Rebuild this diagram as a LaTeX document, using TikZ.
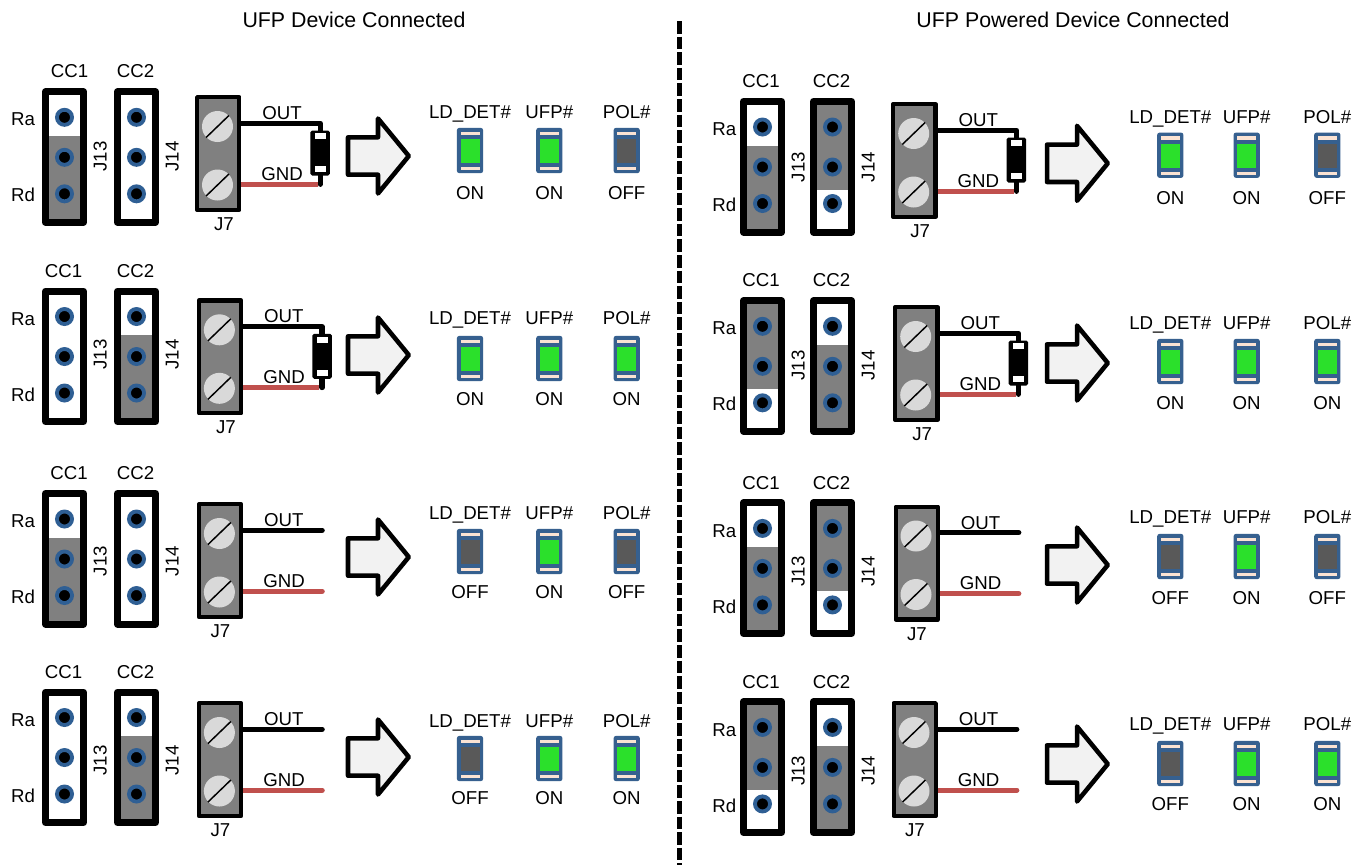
\documentclass[tikz,border=0pt]{standalone}
\usepackage{fontspec}
\setmainfont{Liberation Sans}
\definecolor{pinblue}{HTML}{2F5F94}
\definecolor{ledblue}{HTML}{36608F}
\definecolor{ledgreen}{HTML}{2BE02B}
\definecolor{ledoff}{HTML}{595959}
\definecolor{cream}{HTML}{FBE3D3}
\definecolor{wirered}{HTML}{C0504D}
\definecolor{blockgray}{HTML}{808080}
\definecolor{screwgray}{HTML}{D9D9D9}
\definecolor{arrowfill}{HTML}{F2F2F2}
\tikzset{
  x=0.75pt,y=-0.75pt,
  lbl/.style={font=\fontsize{14}{16}\selectfont,inner sep=0pt,anchor=center,text height=10pt,text depth=0pt},
  ttl/.style={font=\fontsize{16}{18}\selectfont,inner sep=0pt,anchor=center,text height=11.5pt,text depth=0pt},
  hdrframe/.style={draw=black,line width=5.25pt,line join=round,fill=white},
  pin/.style={circle,fill=black,draw=pinblue,line width=2.9pt,minimum size=11.3pt,inner sep=0pt},
  j7box/.style={draw=black,line width=3.15pt,line join=round,fill=blockgray},
  screw/.style={circle,fill=screwgray,minimum size=23.25pt,inner sep=0pt},
  slash/.style={draw=black,line width=1.1pt},
  wire/.style={line width=4pt,line cap=round,line join=round},
  bigarrow/.style={draw=black,line width=3.4pt,line join=round,fill=arrowfill},
  ledbody/.style={draw=ledblue,fill=ledblue,line width=1pt,rounded corners=1.5pt},
  diodebody/.style={draw=black,fill=black,line width=1pt,rounded corners=1pt,minimum width=13.6pt,minimum height=32.75pt,inner sep=0pt},
}
% #1 name, #2 x, #3 y, #4 state n/t/b, #5 label, #6 label y
\newcommand{\hdr}[6]{
  \begin{scope}[shift={(#2,#3)}]
    \path[hdrframe] (3.5,3.5) rectangle (41.5,134);
    \if#4t \fill[blockgray] (7,7) rectangle (38,91.5); \fi
    \if#4b \fill[blockgray] (7,47.5) rectangle (38,130.5); \fi
    \node[pin] (#1a) at (22.5,29) {};
    \node[pin] (#1b) at (22.5,69) {};
    \node[pin] (#1c) at (22.5,105.5) {};
    \node[lbl,rotate=90] (#1l) at (58,#6) {#5};
  \end{scope}}
% terminal block: #1 name #2 x #3 y
\newcommand{\jseven}[3]{
  \begin{scope}[shift={(#2,#3)}]
    \path[j7box] (2.1,2.1) rectangle (44.3,115);
    \node[screw] (#1s) at (22.5,31.5) {};
    \node[screw] (#1t) at (22.5,90) {};
    \draw[slash] (#1s.center) ++(-11.4,11) -- ++(22.8,-22);
    \draw[slash] (#1t.center) ++(-11.4,11) -- ++(22.8,-22);
    \node[lbl] (#1o) at (87,18) {OUT};
    \node[lbl] (#1g) at (87.2,78.5) {GND};
  \end{scope}}
% wires are laid before the block so they start under its edge
\newcommand{\plainwires}[3]{
  \begin{scope}[shift={(#2,#3)}]
    \coordinate (#1a) at (30,28.2); \coordinate (#1b) at (30,89.2);
    \coordinate (#1e) at (125.2,28.2); \coordinate (#1f) at (125.2,89.2);
    \draw[wire,black] (#1a) -- (#1e);
    \draw[wire,wirered] (#1b) -- (#1f);
    \node[lbl] (#1j) at (23.5,129) {J7};
  \end{scope}}
\newcommand{\diodewires}[3]{
  \begin{scope}[shift={(#2,#3)}]
    \coordinate (#1a) at (30,28.2); \coordinate (#1b) at (30,89.2);
    \coordinate (#1e) at (125.2,28.2); \coordinate (#1f) at (125.2,89.2);
    \coordinate (#1k) at (122.5,89.2);
    \draw[wire,wirered,line cap=butt] (#1b) -- (#1k);
    \draw[wire,black] (#1a) -- (#1e) -- (#1f);
    \node[diodebody] (#1d) at (125.2,58) {};
    \fill[white] (119.6,38.3) rectangle (130.8,44.3);
    \fill[white] (119.6,71.3) rectangle (130.8,77.3);
    \node[lbl] (#1j) at (29,129) {J7};
  \end{scope}}
% #1 unused, #2 left x, #3 centre y
\newcommand{\barrow}[3]{
  \path[bigarrow] (#2,#3-18.7) -- (#2+30,#3-18.7) -- (#2+30,#3-37.5) -- (#2+60.8,#3) -- (#2+30,#3+37.5) -- (#2+30,#3+18.7) -- (#2,#3+18.7) -- cycle;}
% #1 name #2 cx #3 top #4 1/0 #5 title #6 title y #7 status y
\newcommand{\led}[7]{
  \begin{scope}[shift={(#2,#3)}]
    \path[ledbody] (-12.5,0.5) rectangle (12.5,44.5);
    \fill[cream] (-9.5,3.7) rectangle (9.5,6.9);
    \fill[cream] (-9.5,38.8) rectangle (9.5,42);
    \ifnum#4=1 \fill[ledgreen] (-9.5,11) rectangle (9.5,35);
    \else \fill[ledoff] (-9.5,11) rectangle (9.5,35); \fi
  \end{scope}
  \node[lbl] (#1t) at (#2,#6) {#5};
  \node[lbl] (#1s) at (#2,#7) {\ifnum#4=1 ON\else OFF\fi};}
% #1 prefix #2 dcc1 #3 hx1 #4 hx2 #5 hy #6 s1 #7 s2 #8 J-label y
\newcommand{\headers}[8]{
  \hdr{#1p}{#3}{#5}{#6}{J13}{#8}
  \hdr{#1q}{#4}{#5}{#7}{J14}{#8}
  \node[lbl] (#1cc) at (#3+#2,#5-17) {CC1};
  \node[lbl] (#1cd) at (#4+21.5,#5-17) {CC2};
  \node[lbl] (#1ra) at (#3+\rax,#5+31) {Ra};
  \node[lbl] (#1rd) at (#3+\rax,#5+107) {Rd};}
% #1 prefix, #2 top y, #3 title y, #4 status y, #5..#7 states
\newcommand{\leds}[7]{
  \led{#1u}{\xa}{#2}{#5}{LD\_DET\#}{#3}{#4}
  \led{#1v}{\xb}{#2}{#6}{UFP\#}{#3}{#4}
  \led{#1w}{\xc}{#2}{#7}{POL\#}{#3}{#4}}
\begin{document}
\begin{tikzpicture}
\useasboundingbox (0,0) rectangle (1362,865);
\fill[white] (0,0) rectangle (1362,865);
\node[ttl] (tl) at (354,20) {UFP Device Connected};
\node[ttl] (tr) at (1073,20) {UFP Powered Device Connected};
\coordinate (da) at (679.5,21); \coordinate (db) at (679.5,865);
\draw[black,line width=3.75pt,dash pattern=on 9.4pt off 2.3pt] (da) -- (db);
% left column
\def\rax{-19}\def\xa{470}\def\xb{549.3}\def\xc{626.7}
\headers{a}{27.5}{42}{114}{88.3}{b}{n}{68}
\diodewires{aj}{195}{95}\jseven{aj}{195}{95}\barrow{a}{348}{156}
\leds{a}{128}{112}{192.5}{1}{1}{0}
\headers{b}{21.5}{42}{114}{287.5}{n}{b}{67}
\diodewires{bj}{196.9}{298.3}\jseven{bj}{196.9}{298.3}\barrow{b}{348}{355}
\leds{b}{336}{318}{399}{1}{1}{1}
\headers{c}{27}{42}{114}{490}{b}{n}{71}
\plainwires{cj}{196.9}{502}\jseven{cj}{196.9}{502}\barrow{c}{348}{557}
\leds{c}{529}{513}{592}{0}{1}{0}
\headers{d}{21.5}{42}{114}{688.5}{n}{b}{72}
\plainwires{dj}{196.9}{701}\jseven{dj}{196.9}{701}\barrow{d}{348}{757}
\leds{d}{736}{721}{797.5}{0}{1}{1}
% right column
\def\rax{-15.7}\def\xa{1170.3}\def\xb{1246.7}\def\xc{1327.3}
\headers{e}{21}{740}{810}{98}{b}{t}{69}
\diodewires{ej}{891.2}{102}\jseven{ej}{891.2}{102}\barrow{e}{1047}{163.3}
\leds{e}{132.7}{116.7}{197.7}{1}{1}{0}
\headers{f}{21}{740}{810}{297.3}{t}{b}{68}
\diodewires{fj}{893.2}{305}\jseven{fj}{893.2}{305}\barrow{f}{1047}{363}
\leds{f}{339}{323}{403}{1}{1}{1}
\headers{g}{21}{740}{810}{499.4}{b}{t}{72}
\plainwires{gj}{893.5}{504.5}\jseven{gj}{893.5}{504.5}\barrow{g}{1047}{565}
\leds{g}{534}{517}{598}{0}{1}{0}
\headers{h}{21}{740}{810}{698.4}{t}{b}{72.5}
\plainwires{hj}{891.5}{701}\jseven{hj}{891.5}{701}\barrow{h}{1047}{764}
\leds{h}{741}{724}{804}{0}{1}{1}
\end{tikzpicture}
\end{document}
